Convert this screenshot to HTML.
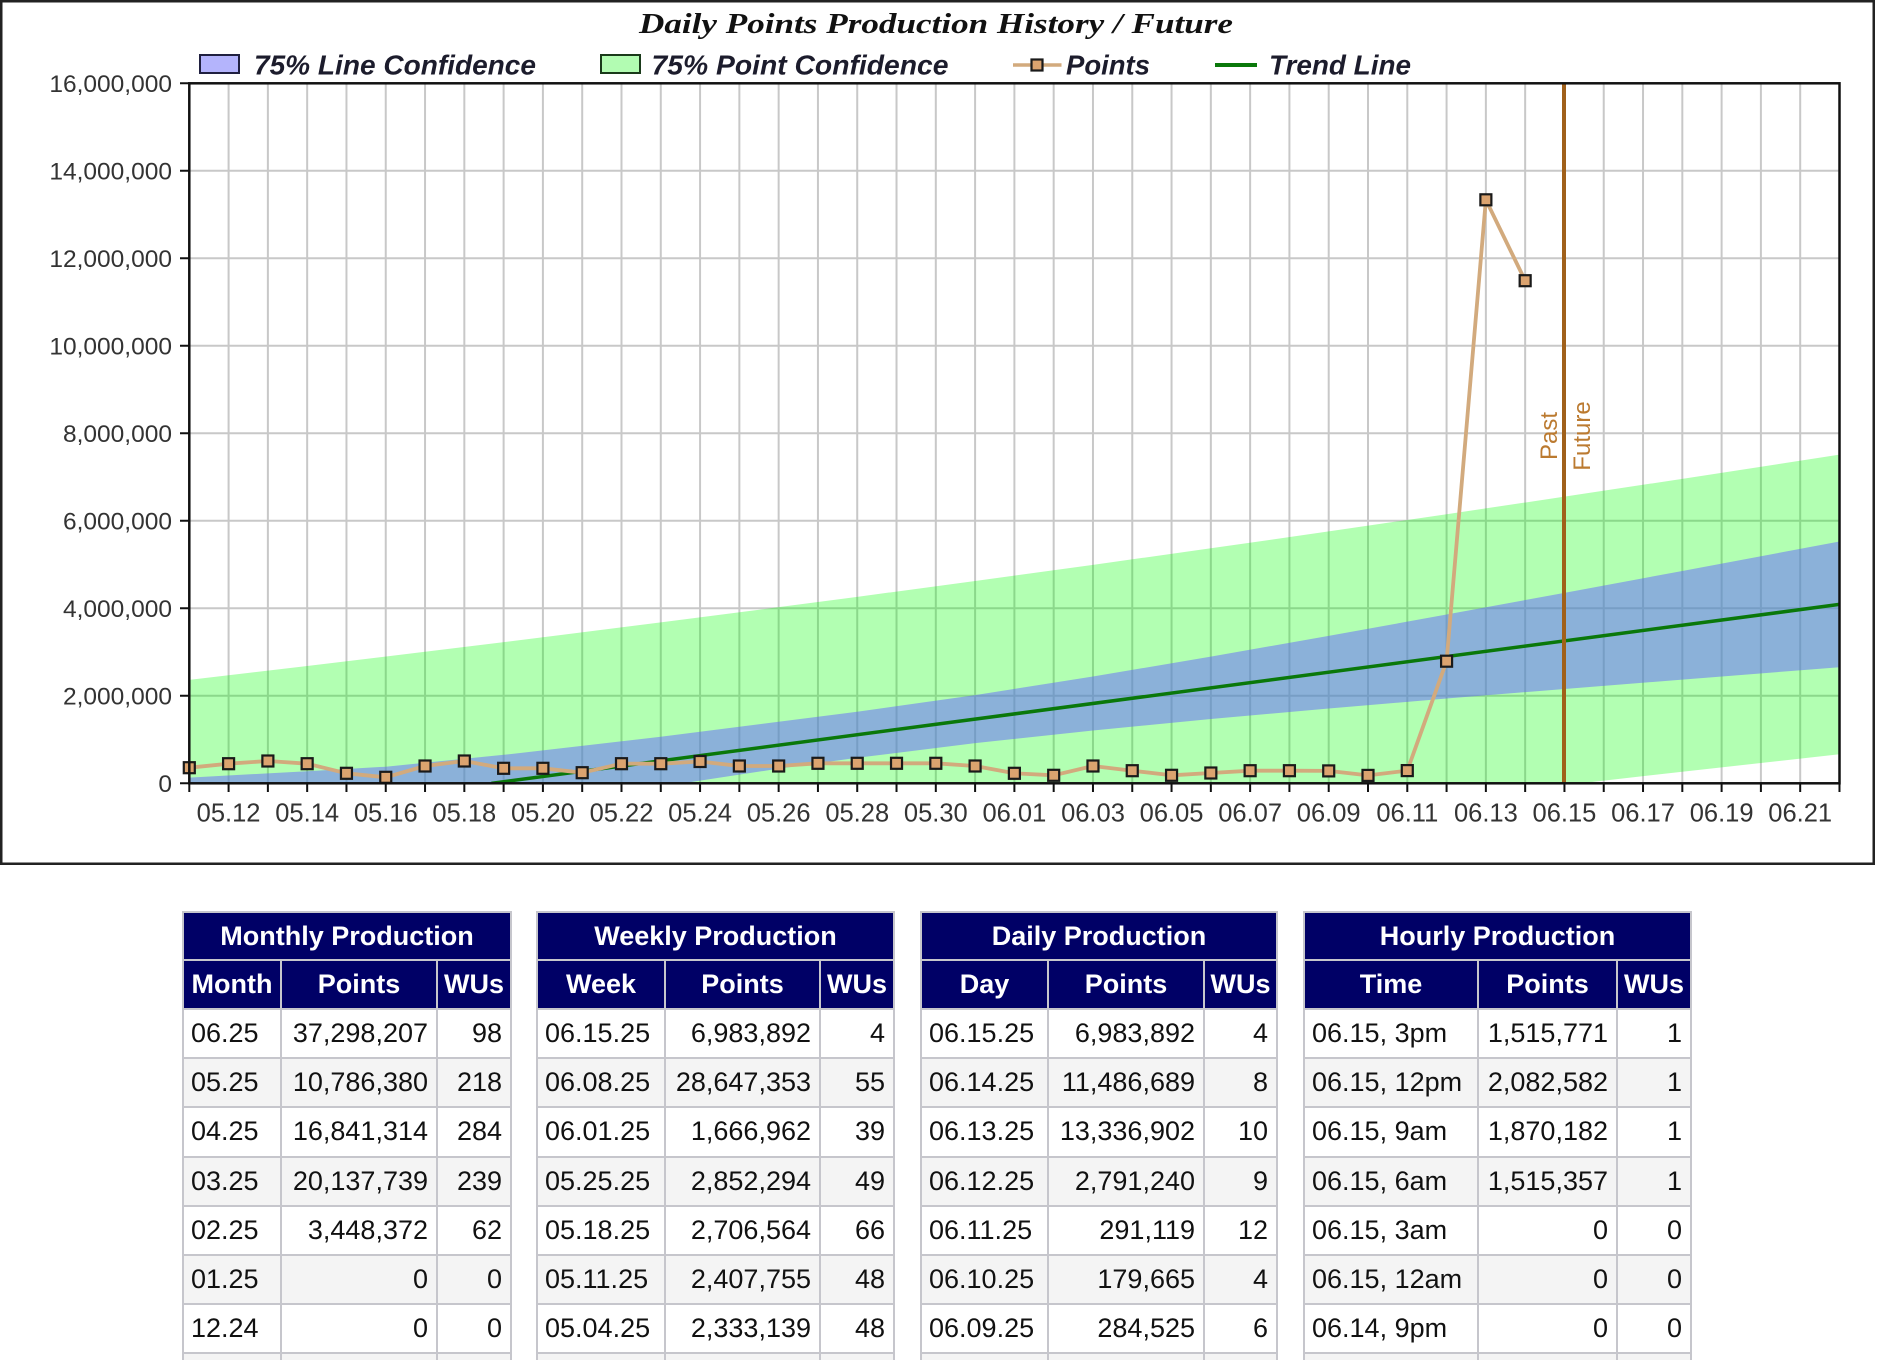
<!DOCTYPE html>
<html><head><meta charset="utf-8">
<style>
html,body{margin:0;padding:0;background:#fff;width:1895px;height:1362px;overflow:hidden;}
body{position:relative;}
.tbl{position:absolute;display:grid;padding:2px 2px 0 2px;gap:2px;background:#c6c6cc;font-family:"Liberation Sans",Arial,sans-serif;grid-template-rows:46px 47px repeat(7,47.2px) 5.6px;}
.tbl div{display:flex;align-items:center;font-size:27px;color:#111;background:#fff;white-space:nowrap;overflow:hidden;}
.tbl div.t{grid-column:1 / 4;justify-content:center;background:#000066;color:#fff;font-weight:bold;}
.tbl div.h{justify-content:center;background:#000066;color:#fff;font-weight:bold;}
.tbl div.l{padding-left:7px;}
.tbl div.r{justify-content:flex-end;padding-right:8px;}
.tbl div.g{background:#f4f4f4;}
</style></head>
<body>
<svg width="1895" height="870" style="position:absolute;left:0;top:0" xmlns="http://www.w3.org/2000/svg">
<defs><clipPath id="pc"><rect x="189.3" y="83.3" width="1650.2" height="700"/></clipPath></defs>
<rect x="1.25" y="1.25" width="1872.5" height="862.5" fill="#fff" stroke="#222" stroke-width="2.5"/>
<text x="639" y="33" font-family="Liberation Serif, serif" font-weight="bold" font-style="italic" font-size="29" fill="#111" textLength="594" lengthAdjust="spacingAndGlyphs">Daily Points Production History / Future</text>
<!-- legend -->
<rect x="200" y="55" width="39" height="18" fill="#b4b4fc" stroke="#202040" stroke-width="2"/>
<text x="254" y="74.5" font-family="Liberation Sans, sans-serif" font-weight="bold" font-style="italic" font-size="28" fill="#1c1c2c" textLength="282" lengthAdjust="spacingAndGlyphs">75% Line Confidence</text>
<rect x="601" y="55" width="39" height="18" fill="#b2fcb2" stroke="#1a3a1a" stroke-width="2"/>
<text x="651.5" y="74.5" font-family="Liberation Sans, sans-serif" font-weight="bold" font-style="italic" font-size="28" fill="#1c1c2c" textLength="297" lengthAdjust="spacingAndGlyphs">75% Point Confidence</text>
<line x1="1013" y1="65" x2="1061.5" y2="65" stroke="#d2aa7d" stroke-width="3.5"/>
<rect x="1031.5" y="59.5" width="11" height="11" fill="#dba36f" stroke="#1a1a1a" stroke-width="2.2"/>
<text x="1066" y="74.5" font-family="Liberation Sans, sans-serif" font-weight="bold" font-style="italic" font-size="28" fill="#1c1c2c" textLength="84" lengthAdjust="spacingAndGlyphs">Points</text>
<line x1="1215" y1="65" x2="1257" y2="65" stroke="#0a780a" stroke-width="4"/>
<text x="1269" y="74.5" font-family="Liberation Sans, sans-serif" font-weight="bold" font-style="italic" font-size="28" fill="#1c1c2c" textLength="142" lengthAdjust="spacingAndGlyphs">Trend Line</text>
<!-- gridlines -->
<g stroke="#c8c8c8" stroke-width="2" fill="none">
<path d="M228.59 83.3V783.3M267.88 83.3V783.3M307.17 83.3V783.3M346.46 83.3V783.3M385.75 83.3V783.3M425.04 83.3V783.3M464.33 83.3V783.3M503.62 83.3V783.3M542.91 83.3V783.3M582.2 83.3V783.3M621.49 83.3V783.3M660.78 83.3V783.3M700.07 83.3V783.3M739.36 83.3V783.3M778.65 83.3V783.3M817.94 83.3V783.3M857.23 83.3V783.3M896.52 83.3V783.3M935.81 83.3V783.3M975.1 83.3V783.3M1014.39 83.3V783.3M1053.68 83.3V783.3M1092.97 83.3V783.3M1132.26 83.3V783.3M1171.55 83.3V783.3M1210.84 83.3V783.3M1250.13 83.3V783.3M1289.42 83.3V783.3M1328.71 83.3V783.3M1368 83.3V783.3M1407.29 83.3V783.3M1446.58 83.3V783.3M1485.87 83.3V783.3M1525.16 83.3V783.3M1564.45 83.3V783.3M1603.74 83.3V783.3M1643.03 83.3V783.3M1682.32 83.3V783.3M1721.61 83.3V783.3M1760.9 83.3V783.3M1800.19 83.3V783.3"/>
<path d="M189.3 695.8H1839.5M189.3 608.3H1839.5M189.3 520.8H1839.5M189.3 433.3H1839.5M189.3 345.8H1839.5M189.3 258.3H1839.5M189.3 170.8H1839.5"/>
</g>
<!-- bands -->
<g clip-path="url(#pc)">
<polygon fill="rgb(0,255,0)" fill-opacity="0.3" points="189.3,679.83 307.17,665.98 425.04,651.8 542.91,637.27 660.78,622.4 778.65,607.18 857.23,596.83 975.1,581.01 1092.97,564.83 1210.84,548.31 1328.71,531.42 1446.58,514.21 1564.45,496.67 1682.32,478.82 1842,454.3 1842,754 1682.32,771.72 1564.45,785.15 1446.58,798.89 1210.84,827.37 189.3,967"/>
<polygon fill="rgb(100,100,255)" fill-opacity="0.5" points="189.3,777.6 307.17,771.2 385.75,766.7 518,753.3 660.78,736.8 778.65,721.72 857.23,711.76 975.1,695.07 1092.97,676.52 1210.84,656.64 1328.71,635.86 1446.58,614.55 1564.45,592.87 1682.32,570.96 1842,541 1842,667 1682.32,679.58 1564.45,688.95 1446.58,698.55 1328.71,708.52 1210.84,719.04 1092.97,730.44 975.1,743.17 857.23,757.76 778.65,768.66 660.78,786.64 542.91,806.14 425.04,826.66 307.17,847.82 189.3,869.4"/>
<line x1="491.4" y1="783.3" x2="1839.48" y2="604.41" stroke="#0a780a" stroke-width="3.5"/>
</g>
<!-- past/future -->
<line x1="1564" y1="83.3" x2="1564" y2="783.3" stroke="#a0601a" stroke-width="4"/>
<text transform="translate(1557,436) rotate(-90)" text-anchor="middle" font-family="Liberation Sans, sans-serif" font-size="24" fill="#bb7a30">Past</text>
<text transform="translate(1590,436) rotate(-90)" text-anchor="middle" font-family="Liberation Sans, sans-serif" font-size="24" fill="#bb7a30">Future</text>
<!-- points -->
<polyline fill="none" stroke="#d2aa7d" stroke-width="3.8" stroke-linejoin="round" points="189.3,767.7 228.59,763.7 267.88,761 307.17,763.7 346.46,773.3 385.75,777.3 425.04,766 464.33,761 503.62,768.3 542.91,768.3 582.2,772.7 621.49,763.7 660.78,763.7 700.07,761.5 739.36,766 778.65,766 817.94,763.3 857.23,763.3 896.52,763.3 935.81,763.3 975.1,766 1014.39,773.3 1053.68,775.3 1092.97,766 1132.26,770.7 1171.55,775.3 1210.84,773 1250.13,770.7 1289.42,770.7 1328.71,770.9 1368,775.4 1407.29,770.6 1446.58,661.2 1485.87,199.8 1525.16,280.7"/>
<g fill="#dba36f" stroke="#1a1a1a" stroke-width="2.2" transform="translate(-0.5,-0.5)">
<rect x="184.3" y="762.7" width="11" height="11"/><rect x="223.59" y="758.7" width="11" height="11"/><rect x="262.88" y="756" width="11" height="11"/><rect x="302.17" y="758.7" width="11" height="11"/><rect x="341.46" y="768.3" width="11" height="11"/><rect x="380.75" y="772.3" width="11" height="11"/><rect x="420.04" y="761" width="11" height="11"/><rect x="459.33" y="756" width="11" height="11"/><rect x="498.62" y="763.3" width="11" height="11"/><rect x="537.91" y="763.3" width="11" height="11"/><rect x="577.2" y="767.7" width="11" height="11"/><rect x="616.49" y="758.7" width="11" height="11"/><rect x="655.78" y="758.7" width="11" height="11"/><rect x="695.07" y="756.5" width="11" height="11"/><rect x="734.36" y="761" width="11" height="11"/><rect x="773.65" y="761" width="11" height="11"/><rect x="812.94" y="758.3" width="11" height="11"/><rect x="852.23" y="758.3" width="11" height="11"/><rect x="891.52" y="758.3" width="11" height="11"/><rect x="930.81" y="758.3" width="11" height="11"/><rect x="970.1" y="761" width="11" height="11"/><rect x="1009.39" y="768.3" width="11" height="11"/><rect x="1048.68" y="770.3" width="11" height="11"/><rect x="1087.97" y="761" width="11" height="11"/><rect x="1127.26" y="765.7" width="11" height="11"/><rect x="1166.55" y="770.3" width="11" height="11"/><rect x="1205.84" y="768" width="11" height="11"/><rect x="1245.13" y="765.7" width="11" height="11"/><rect x="1284.42" y="765.7" width="11" height="11"/><rect x="1323.71" y="765.9" width="11" height="11"/><rect x="1363" y="770.4" width="11" height="11"/><rect x="1402.29" y="765.6" width="11" height="11"/><rect x="1441.58" y="656.2" width="11" height="11"/><rect x="1480.87" y="194.8" width="11" height="11"/><rect x="1520.16" y="275.7" width="11" height="11"/>
</g>
<!-- axes -->
<rect x="189.3" y="83.3" width="1650.2" height="700" fill="none" stroke="#111" stroke-width="2.5"/>
<g stroke="#111" stroke-width="2">
<path d="M180 783.3H189.3M180 695.8H189.3M180 608.3H189.3M180 520.8H189.3M180 433.3H189.3M180 345.8H189.3M180 258.3H189.3M180 170.8H189.3M180 83.3H189.3"/>
<path d="M189.3 783.3V792M228.59 783.3V792M267.88 783.3V792M307.17 783.3V792M346.46 783.3V792M385.75 783.3V792M425.04 783.3V792M464.33 783.3V792M503.62 783.3V792M542.91 783.3V792M582.2 783.3V792M621.49 783.3V792M660.78 783.3V792M700.07 783.3V792M739.36 783.3V792M778.65 783.3V792M817.94 783.3V792M857.23 783.3V792M896.52 783.3V792M935.81 783.3V792M975.1 783.3V792M1014.39 783.3V792M1053.68 783.3V792M1092.97 783.3V792M1132.26 783.3V792M1171.55 783.3V792M1210.84 783.3V792M1250.13 783.3V792M1289.42 783.3V792M1328.71 783.3V792M1368 783.3V792M1407.29 783.3V792M1446.58 783.3V792M1485.87 783.3V792M1525.16 783.3V792M1564.45 783.3V792M1603.74 783.3V792M1643.03 783.3V792M1682.32 783.3V792M1721.61 783.3V792M1760.9 783.3V792M1800.19 783.3V792M1839.48 783.3V792"/>
</g>
<g font-family="Liberation Sans, sans-serif" font-size="24.5" fill="#333" text-anchor="end">
<text x="172" y="791.8">0</text><text x="172" y="704.3">2,000,000</text><text x="172" y="616.8">4,000,000</text><text x="172" y="529.3">6,000,000</text><text x="172" y="441.8">8,000,000</text><text x="172" y="354.3">10,000,000</text><text x="172" y="266.8">12,000,000</text><text x="172" y="179.3">14,000,000</text><text x="172" y="91.8">16,000,000</text>
</g>
<g font-family="Liberation Sans, sans-serif" font-size="25.5" fill="#333" text-anchor="middle">
<text x="228.59" y="821.5">05.12</text><text x="307.17" y="821.5">05.14</text><text x="385.75" y="821.5">05.16</text><text x="464.33" y="821.5">05.18</text><text x="542.91" y="821.5">05.20</text><text x="621.49" y="821.5">05.22</text><text x="700.07" y="821.5">05.24</text><text x="778.65" y="821.5">05.26</text><text x="857.23" y="821.5">05.28</text><text x="935.81" y="821.5">05.30</text><text x="1014.39" y="821.5">06.01</text><text x="1092.97" y="821.5">06.03</text><text x="1171.55" y="821.5">06.05</text><text x="1250.13" y="821.5">06.07</text><text x="1328.71" y="821.5">06.09</text><text x="1407.29" y="821.5">06.11</text><text x="1485.87" y="821.5">06.13</text><text x="1564.45" y="821.5">06.15</text><text x="1643.03" y="821.5">06.17</text><text x="1721.61" y="821.5">06.19</text><text x="1800.19" y="821.5">06.21</text>
</g>
</svg>

<div class="tbl" style="left:182px;top:911px;grid-template-columns:96px 154px 72px;">
<div class="t">Monthly Production</div>
<div class="h">Month</div><div class="h">Points</div><div class="h">WUs</div>
<div class="l">06.25</div><div class="r">37,298,207</div><div class="r">98</div>
<div class="l g">05.25</div><div class="r g">10,786,380</div><div class="r g">218</div>
<div class="l">04.25</div><div class="r">16,841,314</div><div class="r">284</div>
<div class="l g">03.25</div><div class="r g">20,137,739</div><div class="r g">239</div>
<div class="l">02.25</div><div class="r">3,448,372</div><div class="r">62</div>
<div class="l g">01.25</div><div class="r g">0</div><div class="r g">0</div>
<div class="l">12.24</div><div class="r">0</div><div class="r">0</div>
<div class="g"></div><div class="g"></div><div class="g"></div>
</div>

<div class="tbl" style="left:536px;top:911px;grid-template-columns:126px 153px 72px;">
<div class="t">Weekly Production</div>
<div class="h">Week</div><div class="h">Points</div><div class="h">WUs</div>
<div class="l">06.15.25</div><div class="r">6,983,892</div><div class="r">4</div>
<div class="l g">06.08.25</div><div class="r g">28,647,353</div><div class="r g">55</div>
<div class="l">06.01.25</div><div class="r">1,666,962</div><div class="r">39</div>
<div class="l g">05.25.25</div><div class="r g">2,852,294</div><div class="r g">49</div>
<div class="l">05.18.25</div><div class="r">2,706,564</div><div class="r">66</div>
<div class="l g">05.11.25</div><div class="r g">2,407,755</div><div class="r g">48</div>
<div class="l">05.04.25</div><div class="r">2,333,139</div><div class="r">48</div>
<div class="g"></div><div class="g"></div><div class="g"></div>
</div>

<div class="tbl" style="left:920px;top:911px;grid-template-columns:125px 154px 71px;">
<div class="t">Daily Production</div>
<div class="h">Day</div><div class="h">Points</div><div class="h">WUs</div>
<div class="l">06.15.25</div><div class="r">6,983,892</div><div class="r">4</div>
<div class="l g">06.14.25</div><div class="r g">11,486,689</div><div class="r g">8</div>
<div class="l">06.13.25</div><div class="r">13,336,902</div><div class="r">10</div>
<div class="l g">06.12.25</div><div class="r g">2,791,240</div><div class="r g">9</div>
<div class="l">06.11.25</div><div class="r">291,119</div><div class="r">12</div>
<div class="l g">06.10.25</div><div class="r g">179,665</div><div class="r g">4</div>
<div class="l">06.09.25</div><div class="r">284,525</div><div class="r">6</div>
<div class="g"></div><div class="g"></div><div class="g"></div>
</div>

<div class="tbl" style="left:1303px;top:911px;grid-template-columns:172px 137px 72px;">
<div class="t">Hourly Production</div>
<div class="h">Time</div><div class="h">Points</div><div class="h">WUs</div>
<div class="l">06.15, 3pm</div><div class="r">1,515,771</div><div class="r">1</div>
<div class="l g">06.15, 12pm</div><div class="r g">2,082,582</div><div class="r g">1</div>
<div class="l">06.15, 9am</div><div class="r">1,870,182</div><div class="r">1</div>
<div class="l g">06.15, 6am</div><div class="r g">1,515,357</div><div class="r g">1</div>
<div class="l">06.15, 3am</div><div class="r">0</div><div class="r">0</div>
<div class="l g">06.15, 12am</div><div class="r g">0</div><div class="r g">0</div>
<div class="l">06.14, 9pm</div><div class="r">0</div><div class="r">0</div>
<div class="g"></div><div class="g"></div><div class="g"></div>
</div>
</body></html>
